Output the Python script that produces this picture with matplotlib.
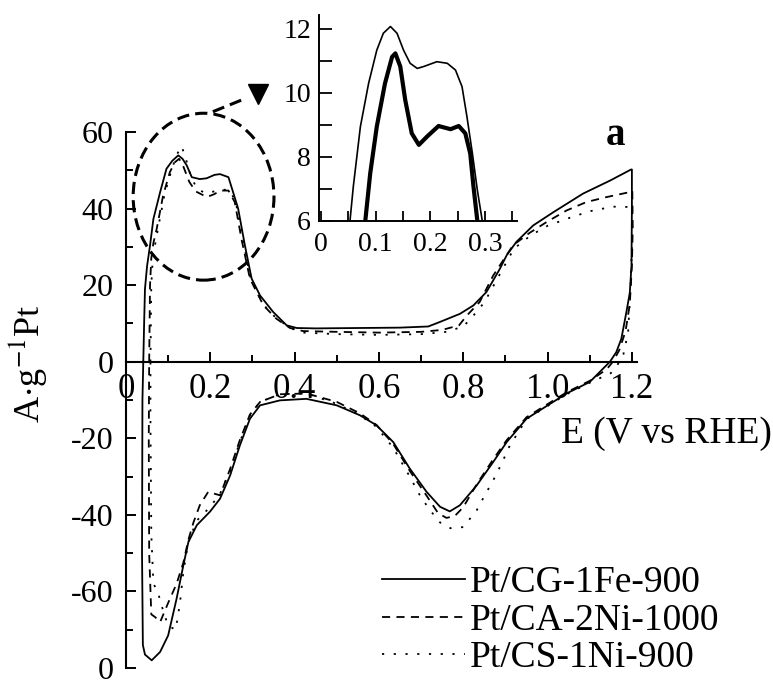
import matplotlib
matplotlib.use("Agg")
import matplotlib.pyplot as plt
from matplotlib.patches import Ellipse
from matplotlib.ticker import MultipleLocator, FixedLocator, FixedFormatter

plt.rcParams['font.family'] = ['Liberation Serif', 'DejaVu Serif']
plt.rcParams['mathtext.fontset'] = 'stix'

# ================ data ================
labels = ["Pt/CG-1Fe-900", "Pt/CA-2Ni-1000", "Pt/CS-1Ni-900"]

# Pt/CG-1Fe-900 : anodic then cathodic scan
cg_E = [0.041, 0.043, 0.045, 0.050, 0.057, 0.065, 0.081, 0.096, 0.110, 0.124, 0.134, 0.144,
        0.156, 0.175, 0.191, 0.210, 0.223, 0.243, 0.254, 0.266, 0.282, 0.298, 0.318, 0.349,
        0.381, 0.405, 0.45, 0.55, 0.65, 0.717, 0.745, 0.792, 0.824, 0.855, 0.887, 0.903,
        0.926, 0.966, 1.013, 1.084, 1.148, 1.198,
        1.200, 1.200, 1.199, 1.195, 1.187, 1.175, 1.163, 1.148, 1.10, 1.045, 0.95, 0.903,
        0.871, 0.832, 0.792, 0.768, 0.745, 0.713, 0.673, 0.634, 0.594, 0.555, 0.50, 0.428,
        0.365, 0.318, 0.294, 0.270, 0.247, 0.223, 0.199, 0.168, 0.148, 0.136, 0.120, 0.100,
        0.081, 0.061, 0.045, 0.040, 0.038, 0.039, 0.041]
cg_I = [0, 10, 19, 25, 30.4, 37.3, 44.3, 50.4, 52.5, 53.9, 53.0, 51.3,
        48.2, 47.7, 47.9, 48.8, 49.0, 48.2, 44.3, 40.0, 30.4, 21.7, 17.3, 13.0,
        9.5, 8.8, 8.7, 8.8, 8.9, 9.2, 10.4, 12.5, 14.7, 18.2, 24.3, 27.8,
        31.3, 35.6, 39.0, 43.9, 47.3, 50.2,
        50.2, 40, 25, 18, 13, 6, 2.5, 0, -5.3, -8.3, -14.9, -21,
        -26.2, -32.3, -37.5, -39.1, -37.9, -34, -27.9, -21, -16.6, -14, -11.4, -9.7,
        -10.1, -11.4, -14.9, -21.9, -29.7, -35.8, -39.2, -42.7, -47.1, -53.2, -61.9, -71.5,
        -75.8, -78, -76.5, -74, -50, -10, 0]

# Pt/CA-2Ni-1000
ca_E = [0.055, 0.056, 0.057, 0.060, 0.065, 0.073, 0.088, 0.104, 0.116, 0.126, 0.136, 0.150,
        0.165, 0.192, 0.210, 0.223, 0.243, 0.258, 0.274, 0.294, 0.326, 0.357, 0.389, 0.42,
        0.50, 0.60, 0.70, 0.75, 0.79, 0.808, 0.839, 0.871, 0.918, 0.958, 0.998, 1.045,
        1.092, 1.14, 1.195, 1.200,
        1.201, 1.202, 1.200, 1.195, 1.185, 1.17, 1.155, 1.14, 1.10, 1.045, 0.95, 0.903,
        0.871, 0.832, 0.80, 0.78, 0.76, 0.74, 0.713, 0.673, 0.634, 0.594, 0.555, 0.50,
        0.428, 0.365, 0.318, 0.294, 0.27, 0.247, 0.223, 0.195, 0.175, 0.16, 0.148, 0.136,
        0.12, 0.10, 0.081, 0.069, 0.060, 0.055, 0.054, 0.055]
ca_I = [0, 10, 20, 27, 31, 34.8, 43.4, 49.5, 52.1, 53.0, 51, 47,
        44.5, 43.0, 43.8, 44.7, 44.7, 41.7, 32, 21.7, 14.7, 11.2, 8.8, 8.0,
        7.8, 7.6, 7.8, 8.3, 9.5, 12.0, 15.6, 22.5, 30.4, 33.7, 36.5, 39.5,
        41.7, 43.0, 44.3, 44.7,
        44.7, 35, 25, 15, 8, 3, 0, -2, -5, -8, -14.5, -20.5,
        -25.5, -32, -38, -40.3, -40.8, -39.5, -35, -28.5, -21.5, -16.5, -13.5, -10.5,
        -8.3, -8.5, -10.5, -13.8, -20.5, -28, -34.9, -34, -37.5, -42, -46.5, -52.5,
        -58, -63, -68, -66.7, -66, -50, -20, 0]

# Pt/CS-1Ni-900
cs_E = [0.058, 0.059, 0.060, 0.063, 0.068, 0.078, 0.092, 0.108, 0.120, 0.132, 0.142, 0.155,
        0.170, 0.190, 0.210, 0.225, 0.245, 0.260, 0.275, 0.295, 0.325, 0.355, 0.390, 0.42,
        0.50, 0.60, 0.70, 0.76, 0.80, 0.82, 0.85, 0.88, 0.92, 0.96, 1.00, 1.05,
        1.10, 1.155, 1.200,
        1.200, 1.200, 1.197, 1.191, 1.18, 1.165, 1.15, 1.10, 1.045, 0.95, 0.91, 0.891,
        0.871, 0.851, 0.832, 0.80, 0.77, 0.745, 0.725, 0.70, 0.673, 0.634, 0.594, 0.555,
        0.50, 0.428, 0.365, 0.318, 0.294, 0.27, 0.247, 0.223, 0.199, 0.168, 0.148, 0.136,
        0.128, 0.118, 0.100, 0.088, 0.075, 0.065, 0.060, 0.058, 0.058]
cs_I = [0, 10, 20, 26, 30, 36, 44, 50, 54, 56.3, 53, 48,
        45, 44, 44.5, 45, 44.8, 42, 33, 22, 15, 11.5, 8.8, 7.6,
        7.2, 7.0, 7.2, 7.8, 9.2, 11.5, 15.5, 21.5, 29.5, 33, 35.5, 37.5,
        39.3, 40.5, 40.4,
        40.4, 30, 20, 7.7, 2, -1, -3, -5.5, -8.5, -15, -22, -26.6,
        -31, -34.9, -38.8, -43.2, -43.5, -42, -39.3, -35.5, -30, -22.5, -17, -14,
        -11, -8.3, -8.5, -10.5, -14, -21, -28.5, -34.5, -38, -41.5, -47, -55,
        -63, -70, -69, -65, -60, -58, -45, -15, 0]

# inset (magnified H-desorption region)
inset_thin_E = [0.053, 0.059, 0.072, 0.087, 0.102, 0.114, 0.127, 0.139, 0.151, 0.163,
                0.176, 0.188, 0.212, 0.231, 0.246, 0.258, 0.267, 0.277, 0.286, 0.295]
inset_thin_I = [6.0, 7.06, 8.94, 10.29, 11.33, 11.86, 12.07, 11.86, 11.33, 10.92,
                10.76, 10.82, 10.97, 10.92, 10.71, 10.19, 9.25, 8.1, 6.96, 6.0]
inset_thick_E = [0.081, 0.090, 0.102, 0.117, 0.130, 0.136, 0.145, 0.154, 0.166, 0.179,
                 0.194, 0.215, 0.237, 0.252, 0.264, 0.273, 0.279, 0.286]
inset_thick_I = [6.0, 7.48, 8.94, 10.29, 11.12, 11.23, 10.82, 9.78, 8.73, 8.37,
                 8.63, 8.96, 8.86, 8.96, 8.73, 8.1, 7.06, 6.0]

y_ticks = [-80, -60, -40, -20, 0, 20, 40, 60]
y_ticklabels = ["0", "-60", "-40", "-20", "0", "20", "40", "60"]
x_ticks = [0, 0.2, 0.4, 0.6, 0.8, 1.0, 1.2]
x_ticklabels = ["0", "0.2", "0.4", "0.6", "0.8", "1.0", "1.2"]
# ==============================================================

fig = plt.figure(figsize=(7.73, 6.94), dpi=100)
ax = fig.add_axes([0.163, 0.0375, 0.661, 0.7723])

l1, = ax.plot(cg_E, cg_I, color='k', lw=1.3, ls='-')
l2, = ax.plot(ca_E, ca_I, color='k', lw=1.3, ls=(0, (4.5, 3.5)))
l3, = ax.plot(cs_E, cs_I, color='k', lw=1.3, ls=(0, (1.2, 5.3)))

ax.set_xlim(0, 1.212)
ax.set_ylim(-80, 60)
ax.spines['top'].set_visible(False)
ax.spines['right'].set_visible(False)
ax.spines['bottom'].set_position(('data', 0))
for s in ['left', 'bottom']:
    ax.spines[s].set_linewidth(1.5)

ax.yaxis.set_major_locator(FixedLocator(y_ticks))
ax.yaxis.set_major_formatter(FixedFormatter(y_ticklabels))
ax.yaxis.set_minor_locator(MultipleLocator(10))
ax.xaxis.set_major_locator(FixedLocator(x_ticks))
ax.xaxis.set_major_formatter(FixedFormatter(x_ticklabels))
ax.xaxis.set_minor_locator(MultipleLocator(0.1))
ax.tick_params(which='both', direction='in', width=1.4)
ax.tick_params(which='major', length=7)
ax.tick_params(which='minor', length=5)
ax.tick_params(axis='y', labelsize=23, pad=9)
ax.tick_params(axis='x', labelsize=25, pad=8)

ax.set_ylabel(r'A$\cdot$g$^{-1}$Pt', fontsize=26)
ax.yaxis.set_label_coords(-0.15, 0.568)
ax.set_xlabel('E (V vs RHE)', fontsize=27)
ax.xaxis.set_label_coords(1.057, 0.438)
ax.xaxis.label.set_va('center')

ax.text(1.16, 59, 'a', fontsize=28, fontweight='bold', ha='center', va='center')

# dashed circle round the H region and pointer to the inset
ax.add_patch(Ellipse((0.184, 43.1), 0.334, 43.6, fill=False, ec='k', lw=2.2,
                     ls=(0, (4, 2)), clip_on=False))
ax.plot([0.206, 0.282], [65.3, 68.7], color='k', lw=2.2, ls=(0, (4, 2)), clip_on=False)
ax.plot([0.313], [70], marker='v', ms=15, color='k', clip_on=False)

ax.legend([l1, l2, l3], labels, loc='upper left',
          bbox_to_anchor=(382 / 773, (694 - 566) / 694), bbox_transform=fig.transFigure,
          frameon=False, fontsize=27, handlelength=2.2, handletextpad=0.15,
          labelspacing=0.07, borderpad=0, borderaxespad=0)

# inset
ins = fig.add_axes([0.4132, 0.682, 0.2552, 0.2964])
ins.patch.set_alpha(0)
ins.plot(inset_thin_E, inset_thin_I, color='k', lw=1.2)
ins.plot(inset_thick_E, inset_thick_I, color='k', lw=3)
ins.set_xlim(-0.003, 0.358)
ins.set_ylim(6, 12.43)
ins.spines['top'].set_visible(False)
ins.spines['right'].set_visible(False)
for s in ['left', 'bottom']:
    ins.spines[s].set_linewidth(1.4)
ins.xaxis.set_major_locator(FixedLocator([0, 0.1, 0.2, 0.3]))
ins.xaxis.set_major_formatter(FixedFormatter(["0", "0.1", "0.2", "0.3"]))
ins.xaxis.set_minor_locator(MultipleLocator(0.05))
ins.yaxis.set_major_locator(MultipleLocator(2))
ins.yaxis.set_minor_locator(MultipleLocator(1))
ins.tick_params(which='both', direction='in', width=1.3, labelsize=20)
ins.tick_params(axis='y', which='both', length=9, pad=6)
ins.tick_params(axis='x', which='both', length=7, pad=8)

fig.savefig('out.png', dpi=100)
